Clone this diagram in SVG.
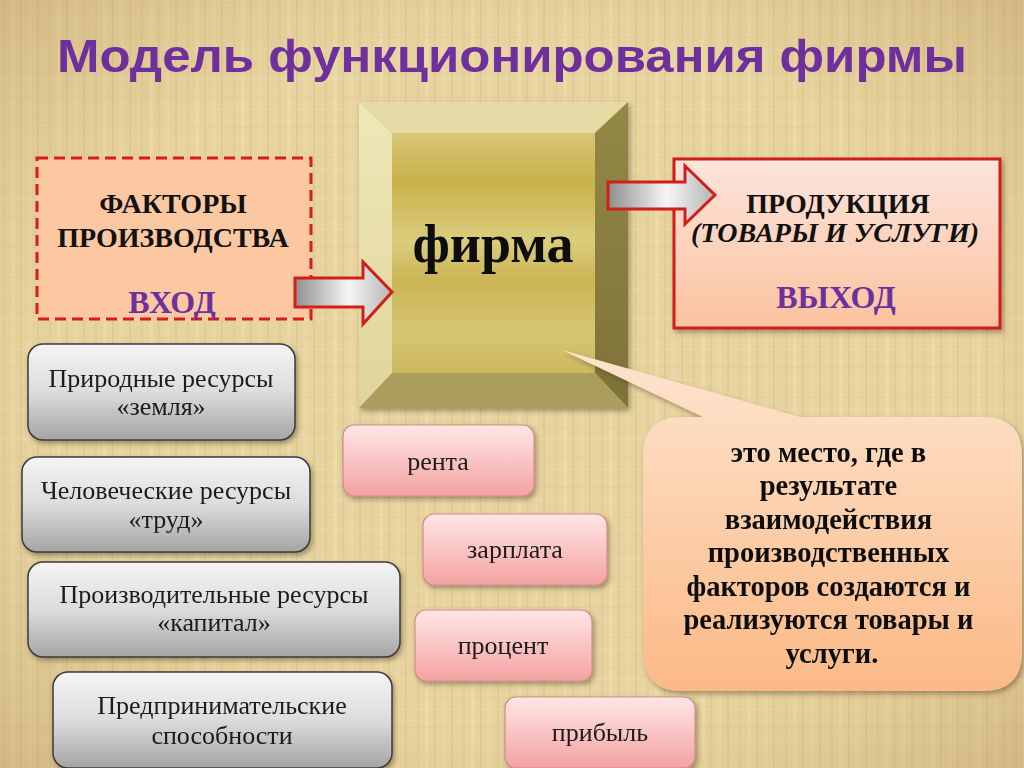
<svg xmlns="http://www.w3.org/2000/svg" width="1024" height="768" viewBox="0 0 1024 768">
<defs>
  <pattern id="tex" width="46" height="30" patternUnits="userSpaceOnUse">
    <rect width="46" height="30" fill="#e7d39f"/>
    <rect x="3" width="2" height="30" fill="#d9c28a" opacity="0.4"/>
    <rect x="11" width="4" height="30" fill="#f0e0b2" opacity="0.4"/>
    <rect x="20" width="1.5" height="30" fill="#cdb67e" opacity="0.35"/>
    <rect x="27" width="5" height="30" fill="#efdcac" opacity="0.35"/>
    <rect x="37" width="2" height="30" fill="#d4bd85" opacity="0.4"/>
    <rect y="7" width="46" height="1" fill="#d7c08a" opacity="0.3"/>
    <rect y="19" width="46" height="1" fill="#f2e4ba" opacity="0.35"/>
  </pattern>
  <radialGradient id="vign" cx="0.5" cy="0.5" r="0.75">
    <stop offset="0.6" stop-color="#b09050" stop-opacity="0"/>
    <stop offset="1" stop-color="#a07840" stop-opacity="0.35"/>
  </radialGradient>
  <linearGradient id="arrowG" x1="0" y1="0" x2="1" y2="0">
    <stop offset="0" stop-color="#8e8e8e"/>
    <stop offset="0.55" stop-color="#f6f6f6"/>
    <stop offset="1" stop-color="#b4b4b4"/>
  </linearGradient>
  <linearGradient id="outG" x1="0" y1="0" x2="0" y2="1">
    <stop offset="0" stop-color="#fde4dc"/>
    <stop offset="1" stop-color="#fbc29e"/>
  </linearGradient>
  <linearGradient id="calG" x1="0" y1="0" x2="0" y2="1">
    <stop offset="0" stop-color="#fde5cf"/>
    <stop offset="1" stop-color="#fbb986"/>
  </linearGradient>
  <linearGradient id="grayG" x1="0" y1="0" x2="0" y2="1">
    <stop offset="0" stop-color="#f4f4f4"/>
    <stop offset="0.5" stop-color="#dcdcdc"/>
    <stop offset="1" stop-color="#a4a4a4"/>
  </linearGradient>
  <linearGradient id="pinkG" x1="0" y1="0" x2="0" y2="1">
    <stop offset="0" stop-color="#ffe6e6"/>
    <stop offset="1" stop-color="#f4a2a2"/>
  </linearGradient>
  <linearGradient id="goldG" x1="0" y1="0" x2="0" y2="1">
    <stop offset="0" stop-color="#d8c676"/>
    <stop offset="0.2" stop-color="#c9b14a"/>
    <stop offset="0.45" stop-color="#dbcd7e"/>
    <stop offset="0.62" stop-color="#cbb452"/>
    <stop offset="0.82" stop-color="#d6c674"/>
    <stop offset="1" stop-color="#ccb960"/>
  </linearGradient>
  <linearGradient id="leftFace" x1="0" y1="0" x2="0" y2="1">
    <stop offset="0" stop-color="#eee8b8"/>
    <stop offset="1" stop-color="#e0d49a"/>
  </linearGradient>
  <linearGradient id="rightFace" x1="0" y1="0" x2="0" y2="1">
    <stop offset="0" stop-color="#948846"/>
    <stop offset="1" stop-color="#7e7238"/>
  </linearGradient>
  <filter id="sh" x="-10%" y="-10%" width="130%" height="140%">
    <feDropShadow dx="2" dy="3" stdDeviation="2.5" flood-color="#4a3a20" flood-opacity="0.45"/>
  </filter>
  <style>
    .ser { font-family: "Liberation Serif", "Times New Roman", serif; }
    .b { font-weight: bold; }
    .c { text-anchor: middle; }
    .gray { fill: url(#grayG); stroke: #3a3a3a; stroke-width: 1.5; }
    .pink { fill: url(#pinkG); stroke: #d48e88; stroke-width: 1.2; }
    .arrow { fill: url(#arrowG); stroke: #d21f1b; stroke-width: 3; stroke-linejoin: miter; }
    .t26 { font-size: 26px; fill: #1a1a1a; }
    .hdr { font-size: 28px; fill: #111; }
    .purple { fill: #6e309c; }
    .cal { font-size: 28.5px; fill: #111; }
  </style>
</defs>

<rect width="1024" height="768" fill="url(#tex)"/>
<rect width="1024" height="768" fill="url(#vign)"/>

<g id="title">
  <text x="512" y="72" class="c" font-family="Liberation Sans, Arial, sans-serif" font-weight="bold" font-size="47" fill="#6e309c" textLength="910" lengthAdjust="spacingAndGlyphs">Модель функционирования фирмы</text>
</g>

<g id="input">
  <rect x="37" y="158" width="274" height="161" fill="#fcc8a2" stroke="#d21f1b" stroke-width="3" stroke-dasharray="11 6"/>
  <text x="173" y="213" class="ser b c hdr">ФАКТОРЫ</text>
  <text x="173" y="247" class="ser b c hdr">ПРОИЗВОДСТВА</text>
  <text x="172" y="313" class="ser b c purple" font-size="32">ВХОД</text>
</g>

<g id="firm" filter="url(#sh)">
  <rect x="359" y="102" width="269" height="306" fill="url(#goldG)"/>
  <polygon points="359,102 628,102 595,133 392,133" fill="#e6dba6"/>
  <polygon points="359,102 392,133 392,373 359,408" fill="url(#leftFace)"/>
  <polygon points="628,102 628,408 595,373 595,133" fill="url(#rightFace)"/>
  <polygon points="359,408 392,373 595,373 628,408" fill="#ab9e5c"/>
  <rect x="392" y="133" width="203" height="240" fill="url(#goldG)"/>
  <text x="493" y="262" class="ser b c" font-size="54" fill="#111">фирма</text>
</g>

<g id="output">
  <rect x="674" y="159" width="326" height="169" fill="url(#outG)" stroke="#d21f1b" stroke-width="3" filter="url(#sh)"/>
  <text x="838" y="213" class="ser b c hdr">ПРОДУКЦИЯ</text>
  <text x="835" y="242" class="ser b c hdr" font-style="italic">(ТОВАРЫ И УСЛУГИ)</text>
  <text x="836" y="308" class="ser b c purple" font-size="32">ВЫХОД</text>
</g>

<g id="connectors">
  <polygon class="arrow" points="295,278 363,278 363,262 392,292 363,324 363,307 295,307"/>
  <polygon class="arrow" points="608,182 685,182 685,166 715,195 685,224 685,209 608,209"/>
</g>

<g id="callout" filter="url(#sh)">
  <path d="M682,417 L703,417 L562,350 L800,417 L983,417 Q1022,417 1022,456 L1022,652 Q1022,691 983,691 L682,691 Q643,691 643,652 L643,456 Q643,417 682,417 Z" fill="url(#calG)"/>
  <text class="ser b c cal" x="832">
    <tspan x="832" y="462">это место, где в</tspan>
    <tspan x="832" y="495">результате</tspan>
    <tspan x="832" y="529">взаимодействия</tspan>
    <tspan x="832" y="562">производственных</tspan>
    <tspan x="832" y="596">факторов создаются  и</tspan>
    <tspan x="832" y="629">реализуются  товары и</tspan>
    <tspan x="832" y="663">услуги.</tspan>
  </text>
</g>

<g id="land" filter="url(#sh)">
  <rect x="28" y="344" width="267" height="96" rx="15" class="gray"/>
  <text x="161" y="387" class="ser c t26">Природные ресурсы</text>
  <text x="161" y="415" class="ser c t26">«земля»</text>
</g>
<g id="labor" filter="url(#sh)">
  <rect x="22" y="457" width="288" height="95" rx="15" class="gray"/>
  <text x="166" y="499" class="ser c t26">Человеческие ресурсы</text>
  <text x="166" y="528" class="ser c t26">«труд»</text>
</g>
<g id="capital" filter="url(#sh)">
  <rect x="28" y="562" width="372" height="95" rx="15" class="gray"/>
  <text x="214" y="603" class="ser c t26">Производительные ресурсы</text>
  <text x="214" y="631" class="ser c t26">«капитал»</text>
</g>
<g id="entrepreneur" filter="url(#sh)">
  <rect x="53" y="672" width="339" height="96" rx="15" class="gray"/>
  <text x="222" y="714" class="ser c t26">Предпринимательские</text>
  <text x="222" y="744" class="ser c t26">способности</text>
</g>

<g id="rent" filter="url(#sh)">
  <rect x="343" y="425" width="191" height="71" rx="11" class="pink"/>
  <text x="438" y="470" class="ser c t26">рента</text>
</g>
<g id="wage" filter="url(#sh)">
  <rect x="423" y="514" width="184" height="71" rx="11" class="pink"/>
  <text x="515" y="558" class="ser c t26">зарплата</text>
</g>
<g id="interest" filter="url(#sh)">
  <rect x="415" y="610" width="177" height="71" rx="11" class="pink"/>
  <text x="503" y="654" class="ser c t26">процент</text>
</g>
<g id="profit" filter="url(#sh)">
  <rect x="505" y="697" width="190" height="71" rx="11" class="pink"/>
  <text x="600" y="741" class="ser c t26">прибыль</text>
</g>
</svg>
